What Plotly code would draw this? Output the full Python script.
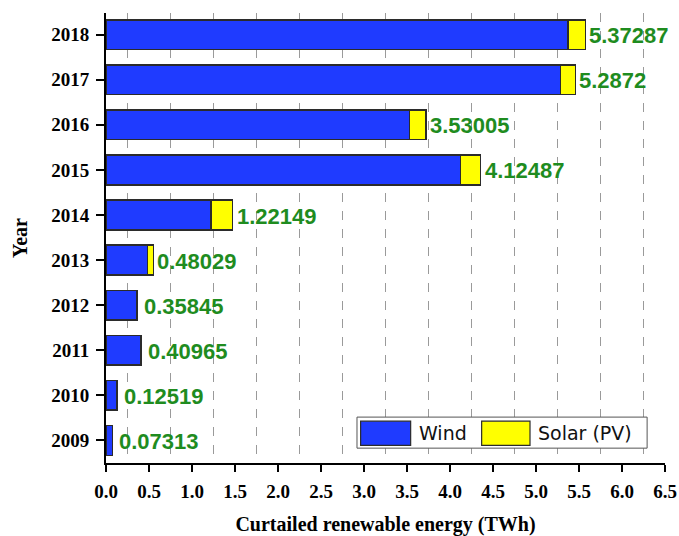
import plotly.graph_objects as go

# Curtailed renewable energy by year (TWh)
years = ["2009", "2010", "2011", "2012", "2013", "2014", "2015", "2016", "2017", "2018"]
wind = [0.07313, 0.12519, 0.40965, 0.35845, 0.48029, 1.22149, 4.12487, 3.53005, 5.2872, 5.37287]
solar = [0.0, 0.0, 0.0, 0.0, 0.07, 0.25, 0.23, 0.19, 0.17, 0.20]
x_ticks = [0.0, 0.5, 1.0, 1.5, 2.0, 2.5, 3.0, 3.5, 4.0, 4.5, 5.0, 5.5, 6.0, 6.5]

WIND_COLOR = "#1f3bff"
SOLAR_COLOR = "#ffff00"
EDGE = "#2b2b2b"
LABEL_GREEN = "#1f8c1f"
SERIF = "Liberation Serif, Times New Roman, serif"
SANS = "Liberation Sans, Arial, sans-serif"

fig = go.Figure()
fig.add_trace(go.Bar(
    y=years, x=wind, orientation="h", name="Wind",
    marker=dict(color=WIND_COLOR, line=dict(color=EDGE, width=1.5)),
    showlegend=False,
))
fig.add_trace(go.Bar(
    y=years, x=solar, orientation="h", name="Solar (PV)",
    marker=dict(color=SOLAR_COLOR, line=dict(color=EDGE, width=1.5)),
    showlegend=False,
))

# value labels (wind curtailment) placed at the end of each stacked bar;
# y is given as the category index so year strings are not read as numbers
for i, (w, s) in enumerate(zip(wind, solar)):
    fig.add_annotation(
        x=w + s, y=i, text=f"<b>{w:g}</b>", showarrow=False,
        xanchor="left", yanchor="middle", xshift=(5 if s == 0 else 2), yshift=-1,
        font=dict(family=SANS, size=22, color=LABEL_GREEN),
    )

# legend drawn as a boxed key with wide swatches
legend_shapes = [
    dict(x0=0.449, x1=0.968, y0=0.033, y1=0.102, fillcolor="white",
         line=dict(color="#555555", width=1)),
    dict(x0=0.4555, x1=0.545, y0=0.039, y1=0.093, fillcolor=WIND_COLOR,
         line=dict(color=EDGE, width=1.2)),
    dict(x0=0.672, x1=0.7585, y0=0.039, y1=0.093, fillcolor=SOLAR_COLOR,
         line=dict(color=EDGE, width=1.2)),
]
for shp in legend_shapes:
    fig.add_shape(type="rect", xref="paper", yref="paper", layer="above", **shp)
for txt, xpos in [("Wind", 0.556), ("Solar (PV)", 0.769)]:
    fig.add_annotation(
        x=xpos, y=0.066, xref="paper", yref="paper", text=txt, showarrow=False,
        xanchor="left", yanchor="middle",
        font=dict(family="DejaVu Sans, sans-serif", size=19, color="#111111"),
    )

fig.update_layout(
    width=679, height=536,
    margin=dict(l=106, r=14, t=13, b=73),
    barmode="stack", bargap=0.34,
    plot_bgcolor="white", paper_bgcolor="white",
    font=dict(family=SERIF, color="black"),
)
fig.update_xaxes(
    range=[0, 6.5], tickvals=x_ticks, ticktext=[f"{v:.1f}" for v in x_ticks],
    automargin=False,
    showline=True, linecolor="black", linewidth=2,
    ticks="outside", ticklen=7, tickwidth=2, tickcolor="black",
    ticklabelstandoff=3,
    tickfont=dict(family=SERIF, size=19, color="black", weight="bold"),
    showgrid=False, zeroline=False,
    minor=dict(tick0=0.25, dtick=0.5, showgrid=True, gridcolor="#9a9a9a",
               griddash="dash", gridwidth=1, ticks=""),
    title=dict(text="Curtailed renewable energy (TWh)", standoff=24,
               font=dict(family=SERIF, size=20, color="black", weight="bold")),
)
fig.update_yaxes(
    type="category", range=[-0.5, 9.48],
    automargin=False,
    showline=True, linecolor="black", linewidth=2,
    ticks="outside", ticklen=8, tickwidth=2, tickcolor="black",
    ticklabelstandoff=3,
    tickfont=dict(family=SERIF, size=19, color="black", weight="bold"),
    showgrid=False, zeroline=False,
    title=dict(text="Year", standoff=18,
               font=dict(family=SERIF, size=20, color="black", weight="bold")),
)

fig.write_html("out.html")
